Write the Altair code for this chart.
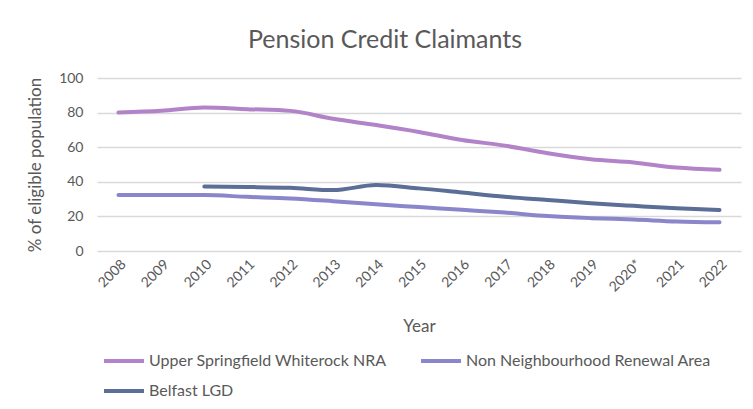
import altair as alt
import pandas as pd

years = ["2008", "2009", "2010", "2011", "2012", "2013", "2014", "2015",
         "2016", "2017", "2018", "2019", "2020*", "2021", "2022"]
upper_springfield = [80.0, 81.0, 83.0, 82.0, 81.0, 76.4, 72.8, 68.8,
                     64.2, 60.9, 56.5, 53.0, 51.2, 48.2, 46.9]
non_nra = [32.3, 32.3, 32.3, 31.3, 30.4, 28.8, 27.0, 25.4,
           23.8, 22.2, 20.2, 19.0, 18.2, 17.1, 16.6]
belfast_years = ["2010", "2011", "2012", "2013", "2014", "2015", "2016",
                 "2017", "2018", "2019", "2020*", "2021", "2022"]
belfast_lgd = [37.3, 37.0, 36.5, 35.2, 38.1, 36.2, 33.8,
               31.4, 29.5, 27.6, 26.1, 24.7, 23.7]

series_names = ["Upper Springfield Whiterock NRA",
                "Non Neighbourhood Renewal Area",
                "Belfast LGD"]
colors = ["#B283C8", "#8A86CB", "#5A6E96"]
# legend fills column by column: this order gives rows [Upper, Non NRA], [Belfast]
legend_order = [series_names[0], series_names[2], series_names[1]]
legend_colors = [colors[0], colors[2], colors[1]]

rows = []
for y, v in zip(years, upper_springfield):
    rows.append({"Year": y, "Series": series_names[0], "Value": v})
for y, v in zip(years, non_nra):
    rows.append({"Year": y, "Series": series_names[1], "Value": v})
for y, v in zip(belfast_years, belfast_lgd):
    rows.append({"Year": y, "Series": series_names[2], "Value": v})
df = pd.DataFrame(rows)

FONT = "Lato"
GREY = "#595959"

chart = alt.Chart(df).mark_line(
    strokeWidth=4, interpolate="monotone", strokeCap="round"
).encode(
    x=alt.X("Year:O", sort=years,
            scale=alt.Scale(type="point", domain=years, padding=0.5),
            axis=alt.Axis(title="Year", labelAngle=-45, ticks=False,
                          domain=False, labelPadding=6,
                          titlePadding=24)),
    y=alt.Y("Value:Q",
            scale=alt.Scale(domain=[0, 100], nice=False),
            axis=alt.Axis(title="% of eligible population", values=[0, 20, 40, 60, 80, 100],
                          ticks=False, domain=False, grid=True,
                          gridColor="#D9D9D9", gridWidth=1.3,
                          labelPadding=14, titlePadding=14)),
    color=alt.Color("Series:N",
                    scale=alt.Scale(domain=legend_order, range=legend_colors),
                    legend=alt.Legend(title=None, orient="none",
                                      legendX=5, legendY=261,
                                      columns=2, columnPadding=26,
                                      symbolType="stroke", symbolSize=1600,
                                      symbolStrokeWidth=4, labelOffset=3,
                                      rowPadding=-32, labelLimit=400)),
    order=alt.Order("Year:O")
).properties(
    width=644,
    height=173,
    autosize=alt.AutoSizeParams(type="none"),
    padding={"left": 89, "top": 70, "right": 4, "bottom": 150},
    title=alt.TitleParams("Pension Credit Claimants", fontSize=25,
                          font=FONT, color=GREY, fontWeight="normal",
                          anchor="middle", offset=18, dx=-34)
).configure_view(
    stroke=None
).configure_axis(
    labelFont=FONT, titleFont=FONT, labelColor=GREY, titleColor=GREY,
    labelFontSize=14, titleFontSize=17, titleFontWeight="normal"
).configure_legend(
    labelFont=FONT, labelColor=GREY, labelFontSize=16
)

chart.save("out.html", embed_options={"renderer": "svg", "actions": False})
